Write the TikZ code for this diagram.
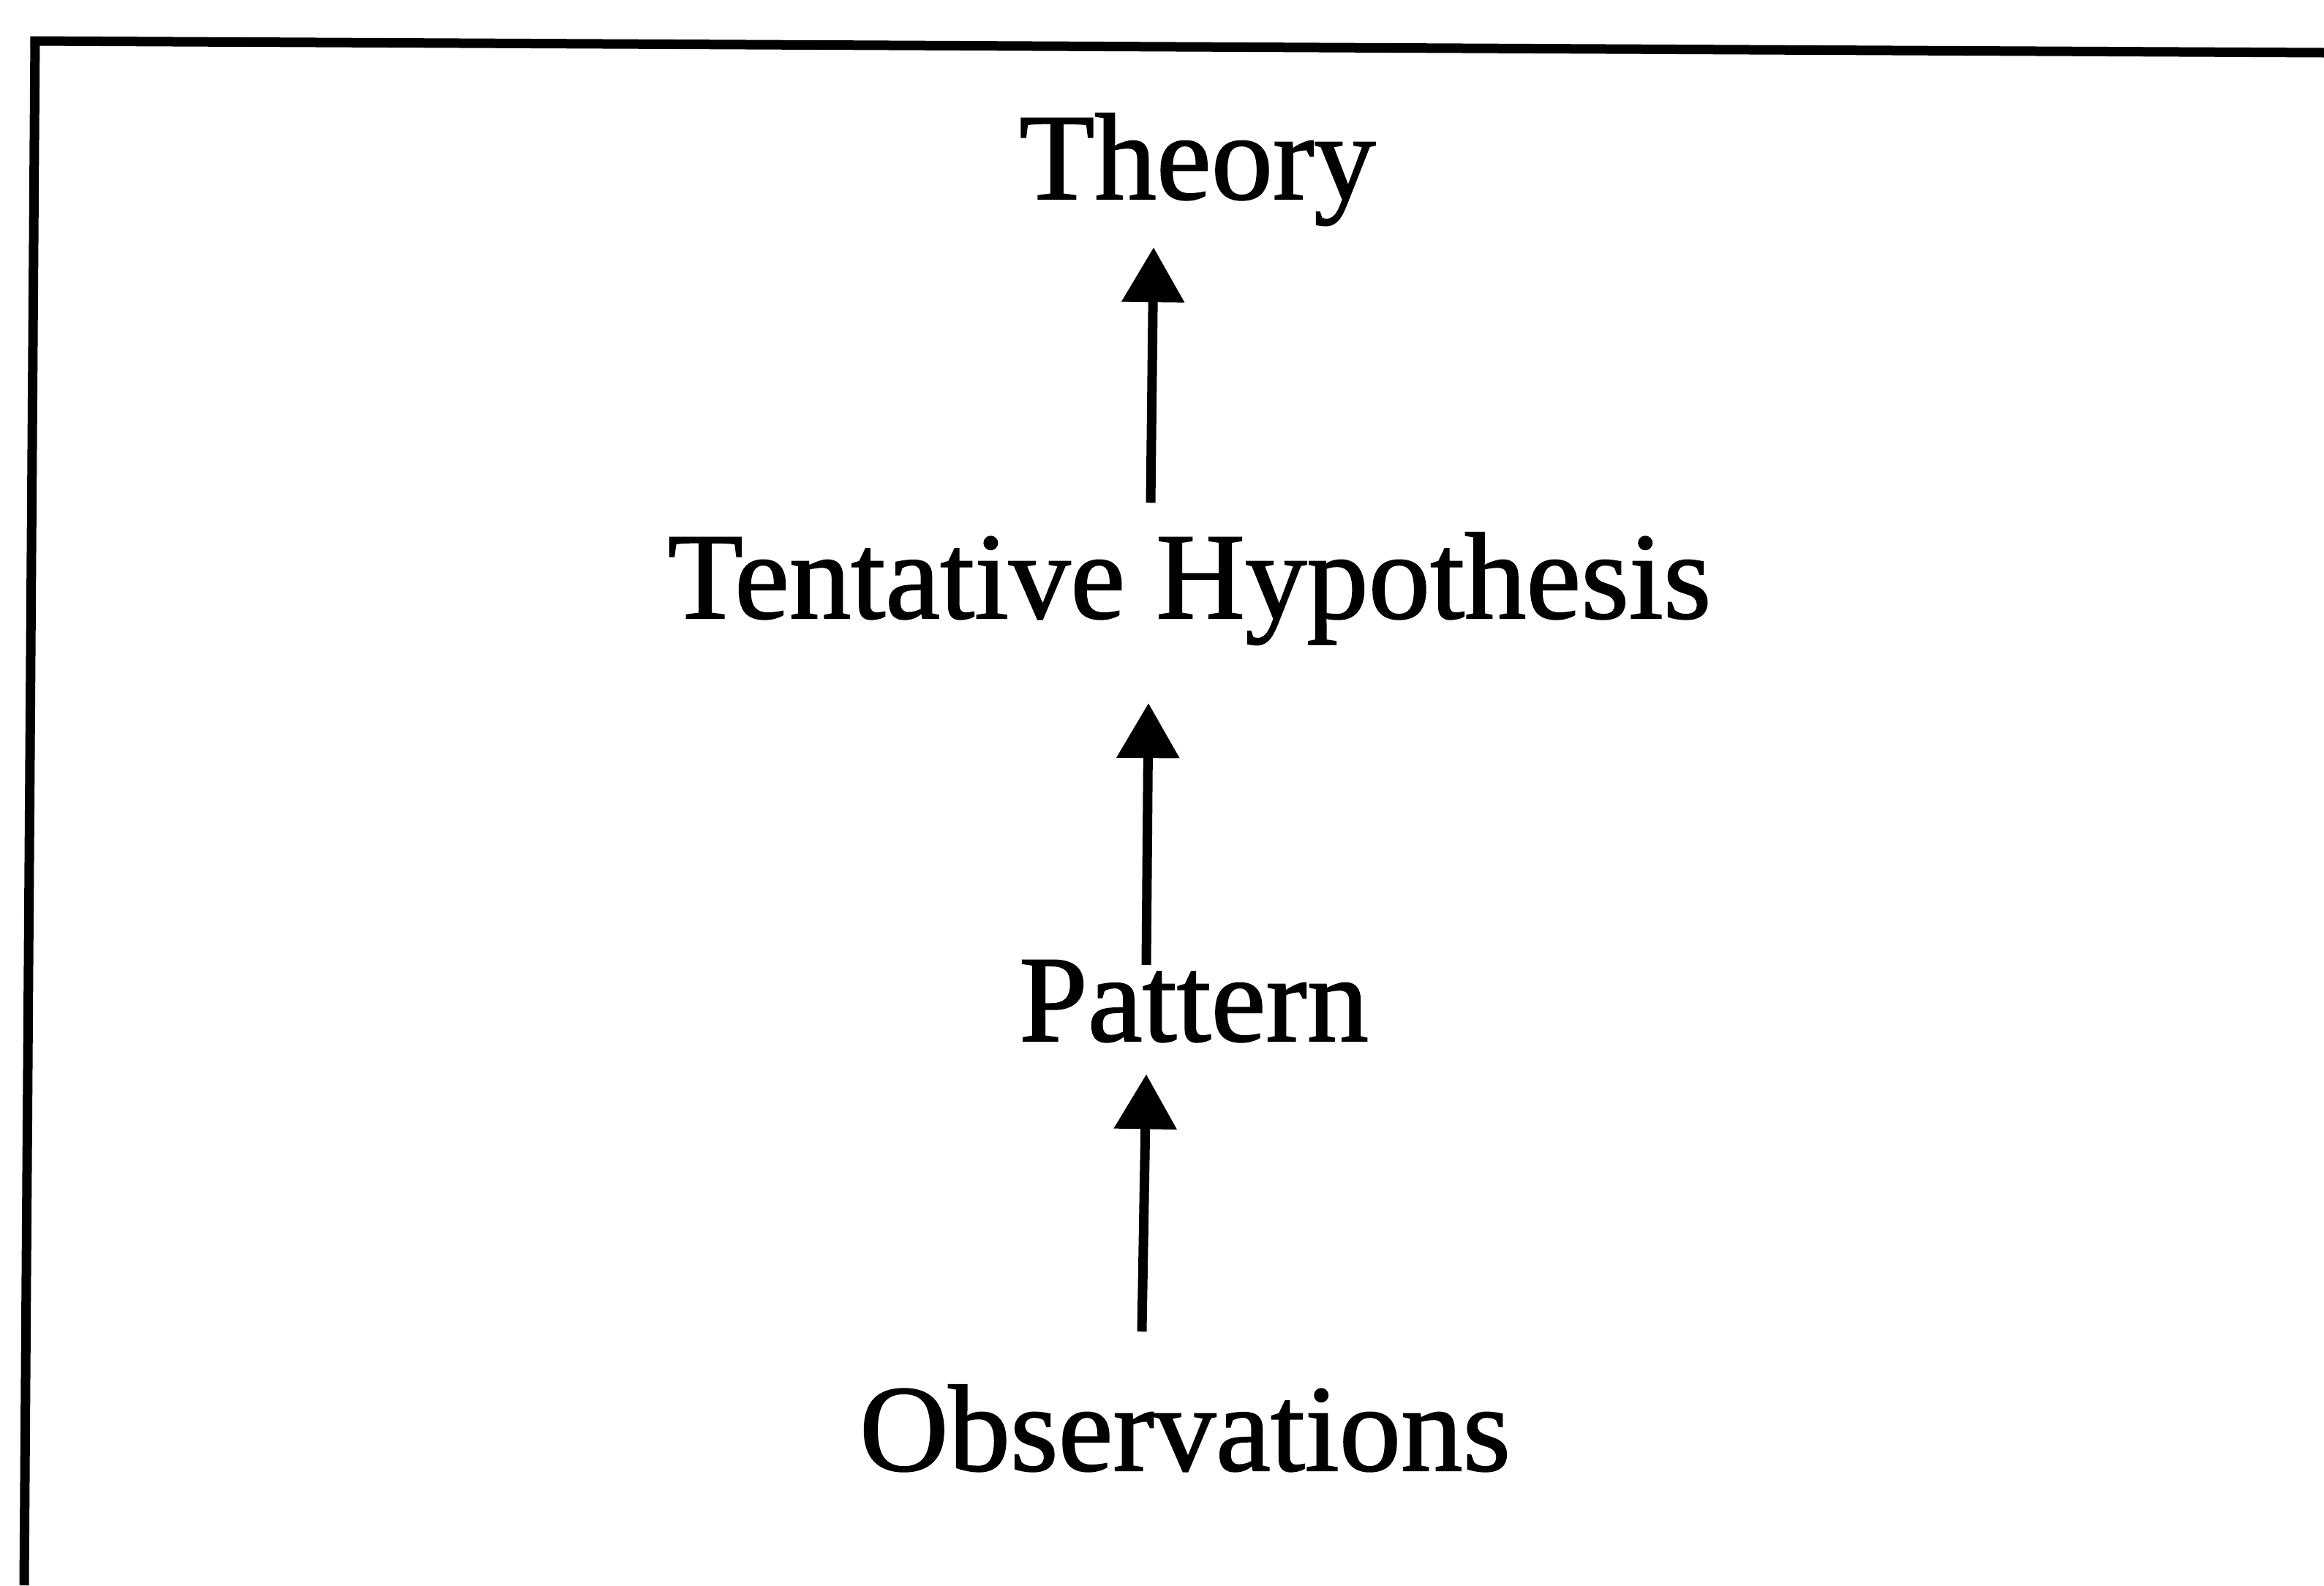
\documentclass[tikz,border=0pt]{standalone}
\usepackage{fontspec}
\setmainfont{Liberation Serif}
\newfontfamily\labelfont{Liberation Serif}[FakeBold=1.2]
\usetikzlibrary{arrows.meta}
\begin{document}
\begin{tikzpicture}[every node/.style={font=\labelfont\fontsize{48pt}{58pt}\selectfont, inner sep=0pt, anchor=base},
  flow/.style={line width=0.13cm, -{Triangle[length=0.75cm, width=0.83cm]}},
  frame/.style={line width=0.13cm}]
\useasboundingbox (0,0) rectangle (31.77,-21.67);
% open frame, top and left edges only
\draw[frame] (0.42,-0.56) -- (31.77,-0.72);
\draw[frame] (0.48,-0.50) -- (0.33,-21.67);
\node (theory) at (16.37,-2.72) {Theory};
\node (hypothesis) at (16.26,-8.45) {Tentative Hypothesis};
\node (pattern) at (16.32,-14.23) {Pattern};
\node (observations) at (16.20,-20.10) {Observations};
\draw[flow] ([xshift=-5.9mm, yshift=7.2mm]observations.north) -- ([xshift=-6.5mm, yshift=-4.3mm]pattern.south);
\draw[flow] ([xshift=-6.5mm, yshift=-0.7mm]pattern.north) -- ([xshift=-5.6mm, yshift=-7.9mm]hypothesis.south);
\draw[flow] ([xshift=-5.3mm, yshift=4.0mm]hypothesis.north) -- ([xshift=-6.0mm, yshift=-2.9mm]theory.south);
\end{tikzpicture}
\end{document}
